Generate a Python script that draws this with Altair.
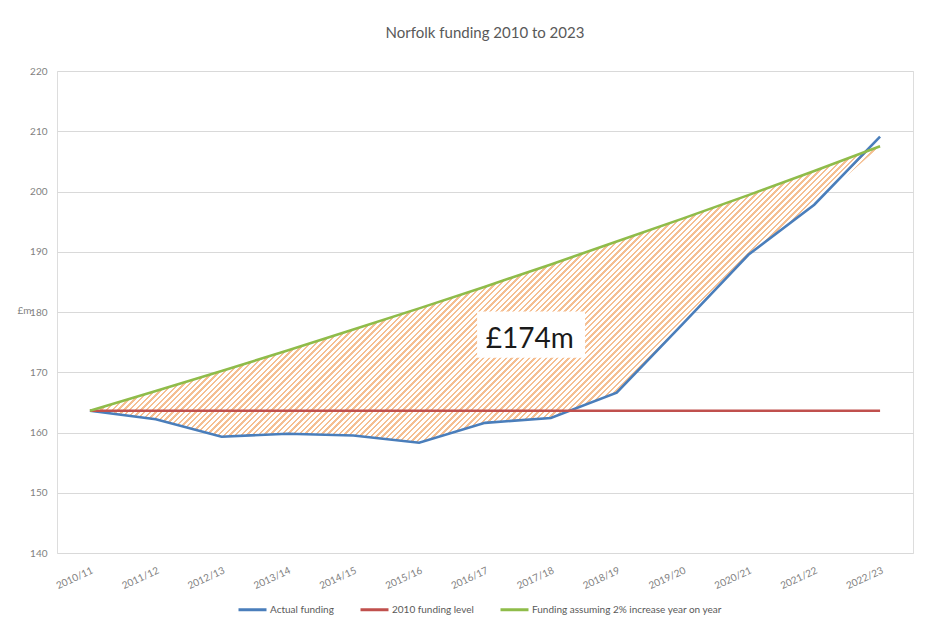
import altair as alt
import pandas as pd

# ---------------- data ----------------
years = ["2010/11", "2011/12", "2012/13", "2013/14", "2014/15", "2015/16", "2016/17",
         "2017/18", "2018/19", "2019/20", "2020/21", "2021/22", "2022/23"]
actual = [163.6, 162.2, 159.3, 159.8, 159.5, 158.3, 161.6, 162.4, 166.6, 178.0, 189.5, 197.8, 209.1]
level_2010 = [163.6, 163.6, 163.6, 163.6, 163.6, 163.6, 163.6, 163.6, 163.6, 163.6, 163.6, 163.6, 163.6]
with_2pct = [163.6, 166.9, 170.2, 173.6, 177.1, 180.6, 184.2, 187.9, 191.7, 195.5, 199.4, 203.4, 207.5]
series_names = ["Actual funding", "2010 funding level", "Funding assuming 2% increase year on year"]
series_colors = ["#4a7ebb", "#c0504d", "#8fbc4a"]
y_ticks = [140, 150, 160, 170, 180, 190, 200, 210, 220]

annot_text = ["£174m"]
annot_x = [6.68]
annot_y = [175.4]
box_x = [5.88]
box_x2 = [7.52]
box_y = [180.1]
box_y2 = [172.4]

# ---------------- tables ----------------
rows = []
for name, vals in zip(series_names, [actual, level_2010, with_2pct]):
    for i, v in enumerate(vals):
        rows.append({"i": i, "year": years[i], "value": v, "series": name})
lines_df = pd.DataFrame(rows)

area_df = pd.DataFrame({
    "i": list(range(len(years))),
    "hi": with_2pct,
    "lo": [min(a, g) for a, g in zip(actual, with_2pct)],
})
annot_df = pd.DataFrame({"t": annot_text, "x": annot_x, "y": annot_y})
box_df = pd.DataFrame({"x": box_x, "x2": box_x2, "y": box_y, "y2": box_y2})

# ---------------- hatch pattern via striped gradient ----------------
PLOT_W, PLOT_H = 856, 482
n = len(years)
def x_px(i):
    return (i + 0.5) / n * PLOT_W
def y_px(v):
    return (220 - v) / 80 * PLOT_H
bw = x_px(n - 1) - x_px(0)
bh = y_px(min(area_df["lo"])) - y_px(max(area_df["hi"]))
r = bh / bw
period_px = 5.7
p = period_px / (bw * (1 + r * r))
stripe = "#f5bf92"
stops = []
k = 0
while k * p < 1:
    t0 = k * p
    t1 = min(t0 + 0.42 * p, 1)
    t2 = min(t0 + p, 1)
    stops += [alt.GradientStop(offset=t0, color=stripe),
              alt.GradientStop(offset=t1, color=stripe),
              alt.GradientStop(offset=t1, color="#ffffff"),
              alt.GradientStop(offset=t2, color="#ffffff")]
    k += 1
hatch = alt.Gradient(gradient="linear", stops=stops, x1=0, y1=0, x2=1, y2=r)

# ---------------- chart ----------------
FONT = "Lato"
label_expr = "[" + ",".join("'" + y + "'" for y in years) + "][datum.value]"

x_enc = alt.X("i:Q", scale=alt.Scale(domain=[-0.5, n - 0.5], nice=False, zero=False),
              axis=alt.Axis(values=list(range(n)), labelExpr=label_expr, title=None,
                            grid=False, domain=False, ticks=False, tickSize=0,
                            labelAngle=-25, labelAlign="right", labelBaseline="top",
                            labelPadding=12, labelColor="#7f7f7f", labelFontSize=10,
                            labelFont=FONT, labelOverlap=False))
y_scale = alt.Scale(domain=[140, 220], nice=False, zero=False)

area = alt.Chart(area_df).mark_area(fill=hatch, stroke=None).encode(
    x=x_enc,
    y=alt.Y("hi:Q", scale=y_scale,
            axis=alt.Axis(values=y_ticks, title="£m", titleAngle=0, titleX=-40, titleY=239,
                          titleAlign="left", titleBaseline="middle", titleFontSize=10,
                          titleFontWeight="normal", titleColor="#7f7f7f", titleFont=FONT,
                          grid=True, gridColor="#d9d9d9", gridWidth=1.2, domain=False,
                          ticks=False, tickSize=0, labelPadding=10, labelColor="#7f7f7f",
                          labelFontSize=10, labelFont=FONT)),
    y2="lo:Q",
)

lines = alt.Chart(lines_df).mark_line(strokeWidth=2.6).encode(
    x=x_enc,
    y=alt.Y("value:Q", scale=y_scale),
    color=alt.Color("series:N",
                    scale=alt.Scale(domain=series_names, range=series_colors),
                    sort=series_names,
                    legend=alt.Legend(title=None, orient="none", direction="horizontal",
                                      legendX=180, legendY=523, symbolType="stroke",
                                      symbolSize=784, symbolStrokeWidth=3, labelOffset=2,
                                      columnPadding=20, labelFontSize=10, labelColor="#595959",
                                      labelFont=FONT, labelLimit=0)),
    order=alt.Order("i:Q"),
)

box = alt.Chart(box_df).mark_rect(fill="white").encode(
    x="x:Q", x2="x2:Q", y="y:Q", y2="y2:Q")

label = alt.Chart(annot_df).mark_text(fontSize=28, font=FONT, color="#1a1a1a",
                                      align="center", baseline="middle").encode(
    x="x:Q", y="y:Q", text="t:N")

chart = alt.layer(area, lines, box, label).properties(
    width=PLOT_W, height=PLOT_H,
    title=alt.TitleParams("Norfolk funding 2010 to 2023", fontSize=15, font=FONT,
                          fontWeight="normal", color="#595959", offset=25, anchor="middle"),
    autosize=alt.AutoSizeParams(type="none"),
    padding={"left": 49, "top": 63, "right": 12, "bottom": 62},
).configure_view(stroke=None).configure(background="white")

chart.save("out.html", embed_options={"renderer": "svg", "actions": False})
